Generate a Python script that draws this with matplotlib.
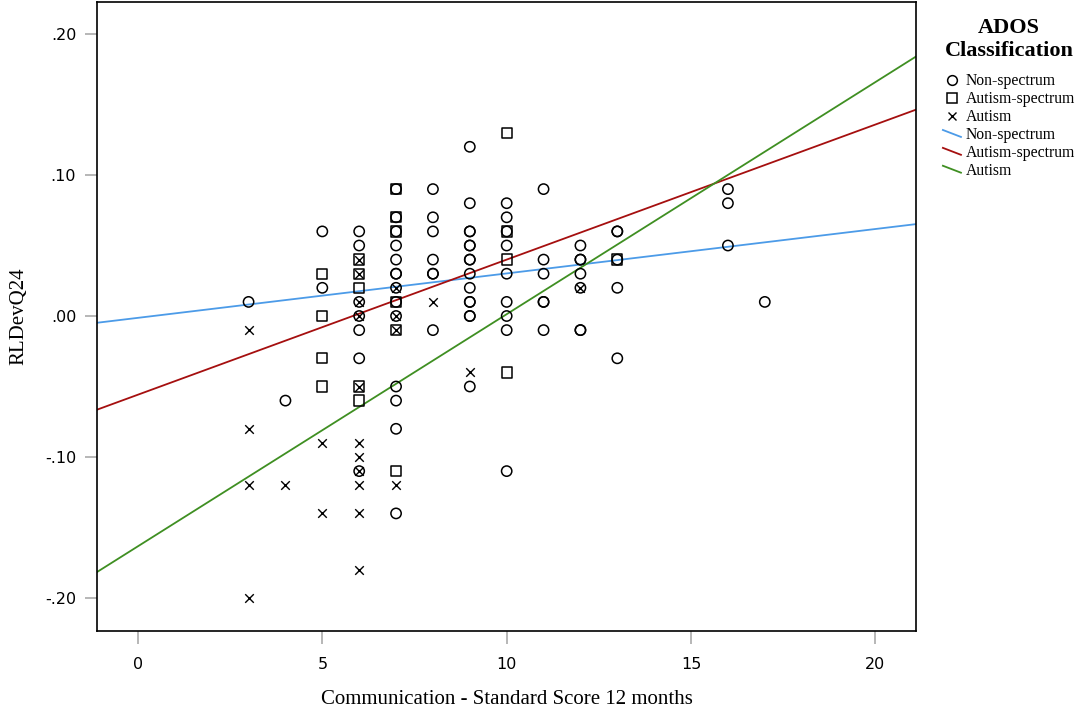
import numpy as np
import matplotlib.pyplot as plt
from matplotlib.lines import Line2D
from matplotlib.legend_handler import HandlerBase


# Communication standard score (12 mo) vs RLDevQ24, grouped by ADOS classification
non_x = [3, 4, 5, 5,
         6, 6, 6, 6, 6, 6, 6,
         7, 7, 7, 7, 7, 7, 7, 7, 7, 7, 7, 7, 7, 7,
         8, 8, 8, 8, 8, 8, 8,
         9, 9, 9, 9, 9, 9, 9, 9, 9, 9, 9, 9, 9, 9, 9,
         10, 10, 10, 10, 10, 10, 10, 10, 10,
         11, 11, 11, 11, 11, 11,
         12, 12, 12, 12, 12, 12, 12,
         13, 13, 13, 13, 13,
         16, 16, 16, 17]
non_y = [0.01, -0.06, 0.06, 0.02,
         0.06, 0.05, 0.01, 0.00, -0.01, -0.03, -0.11,
         0.09, 0.07, 0.06, 0.05, 0.04, 0.03, 0.03, 0.02, 0.01, 0.00, -0.05, -0.06, -0.08, -0.14,
         0.09, 0.07, 0.06, 0.04, 0.03, 0.03, -0.01,
         0.12, 0.08, 0.06, 0.06, 0.05, 0.05, 0.04, 0.04, 0.03, 0.02, 0.01, 0.01, 0.00, 0.00, -0.05,
         0.08, 0.07, 0.06, 0.05, 0.03, 0.01, 0.00, -0.01, -0.11,
         0.09, 0.04, 0.03, 0.01, 0.01, -0.01,
         0.05, 0.04, 0.04, 0.03, 0.02, -0.01, -0.01,
         0.06, 0.06, 0.04, 0.02, -0.03,
         0.09, 0.08, 0.05, 0.01]

asd_x = [5, 5, 5, 5,
         6, 6, 6, 6, 6,
         7, 7, 7, 7, 7, 7,
         10, 10, 10, 10,
         13]
asd_y = [0.03, 0.00, -0.03, -0.05,
         0.04, 0.03, 0.02, -0.05, -0.06,
         0.09, 0.07, 0.06, 0.01, -0.01, -0.11,
         0.13, 0.06, 0.04, -0.04,
         0.04]

aut_x = [3, 3, 3, 3, 4, 5, 5,
         6, 6, 6, 6, 6, 6, 6, 6, 6, 6, 6,
         7, 7, 7, 7, 8, 9, 12]
aut_y = [-0.01, -0.08, -0.12, -0.20, -0.12, -0.09, -0.14,
         0.04, 0.03, 0.01, 0.00, -0.05, -0.09, -0.10, -0.11, -0.12, -0.14, -0.18,
         0.02, 0.00, -0.01, -0.12, 0.01, -0.04, 0.02]

# fit lines per group: (intercept, slope)
groups = ["Non-spectrum", "Autism-spectrum", "Autism"]
fit_intercepts = [-0.0013, -0.0558, -0.1633]
fit_slopes = [0.00315, 0.00958, 0.01646]
fit_colors = ["#4C9BE8", "#A50F0F", "#3F8F22"]

xticks = [0, 5, 10, 15, 20]
yticks = [0.20, 0.10, 0.00, -0.10, -0.20]
ytick_labels = [".20", ".10", ".00", "-.10", "-.20"]


class SlopedLine(HandlerBase):
    # legend key drawn as a short descending line
    def create_artists(self, legend, orig_handle, xdescent, ydescent,
                       width, height, fontsize, trans):
        mid = height / 2 - ydescent
        ln = Line2D([-xdescent, -xdescent + width], [mid + 2.5, mid - 2.5],
                    color=orig_handle.get_color(),
                    lw=orig_handle.get_linewidth(), transform=trans)
        return [ln]


fig = plt.figure(figsize=(10.78, 7.11), dpi=100)
ax = fig.add_axes([0.090, 0.1125, 0.7597, 0.8847])

ms = 55
ax.scatter(non_x, non_y, s=ms, marker="o", facecolors="none",
           edgecolors="black", linewidths=1.1, zorder=3)
ax.scatter(asd_x, asd_y, s=ms, marker="s", facecolors="none",
           edgecolors="black", linewidths=1.1, zorder=3)
ax.scatter(aut_x, aut_y, s=38, marker="x", color="black",
           linewidths=1.0, zorder=3)

xmin, xmax = -1.11, 21.1
xs = np.array([xmin, xmax])
for b0, b1, c in zip(fit_intercepts, fit_slopes, fit_colors):
    ax.plot(xs, b0 + b1 * xs, color=c, lw=1.3, zorder=2)

ax.set_xlim(xmin, xmax)
ax.set_ylim(-0.2234, 0.2227)
ax.set_xticks(xticks)
ax.set_yticks(yticks)
ax.set_yticklabels(ytick_labels)
ax.tick_params(axis="both", direction="out", length=9, width=1.2,
               color="#aaaaaa", labelsize=11.5, pad=6)
ax.tick_params(axis="x", pad=10)
for sp in ax.spines.values():
    sp.set_linewidth(1.2)
    sp.set_color("black")

ax.set_xlabel("Communication - Standard Score 12 months",
              family="Liberation Serif", fontsize=15, labelpad=13)
ax.set_ylabel("RLDevQ24", family="Liberation Serif", fontsize=15, labelpad=12)

handles = [
    Line2D([], [], ls="none", marker="o", mfc="none", mec="black", ms=7, mew=1.1),
    Line2D([], [], ls="none", marker="s", mfc="none", mec="black", ms=7, mew=1.1),
    Line2D([], [], ls="none", marker="x", color="black", ms=6, mew=1.0),
]
handles += [Line2D([], [], color=c, lw=1.3) for c in fit_colors]
labels = groups + groups
handler_map = {h: SlopedLine() for h in handles[3:]}

leg = fig.legend(handles, labels, loc="upper left",
                 bbox_to_anchor=(0.8674, 0.986), frameon=False,
                 title="ADOS\nClassification",
                 title_fontproperties={"family": "Liberation Serif",
                                       "weight": "bold", "size": 16},
                 prop={"family": "Liberation Serif", "size": 11.3},
                 handlelength=1.15, handletextpad=0.3, labelspacing=0.12,
                 borderpad=0.0, handler_map=handler_map)
leg.get_title().set_multialignment("center")
leg._legend_box.sep = 9

fig.savefig("out.png", dpi=100)
